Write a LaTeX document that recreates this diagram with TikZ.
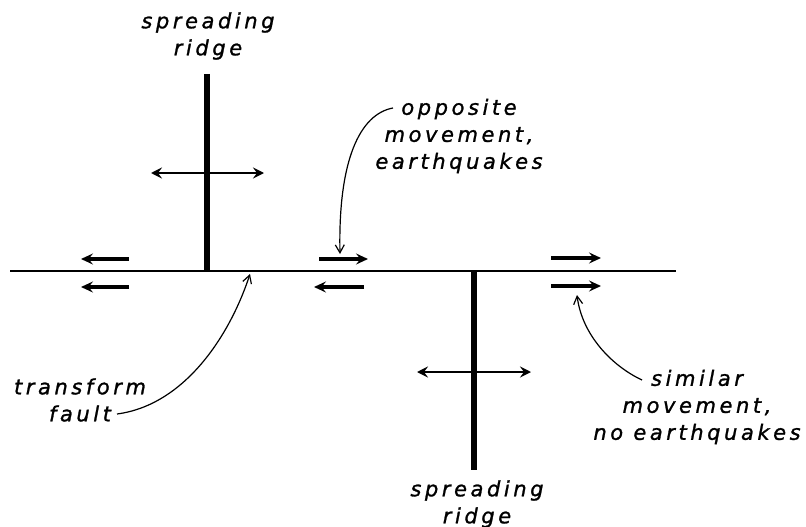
\documentclass[tikz,border=0pt]{standalone}
\usepackage{fontspec}
\newfontfamily\lf[LetterSpace=17,FakeBold=1.2]{DejaVu Sans}
\usetikzlibrary{arrows.meta}
\tikzset{
  lbl/.style={font=\lf\itshape\fontsize{21}{27}\selectfont, align=center, inner sep=0pt},
  fault/.style={line width=2.5pt},
  ridge/.style={line width=6pt},
  spread/.style={line width=2.5pt, {Stealth[length=11pt,width=11pt,inset=4pt]}-{Stealth[length=11pt,width=11pt,inset=4pt]}},
  motion/.style={line width=3.5pt, -{Stealth[length=12pt,width=11pt,inset=4.5pt]}},
  leader/.style={line width=1.2pt, -{Straight Barb[length=8pt,width=9pt]}}
}
\begin{document}
\begin{tikzpicture}[x=1pt,y=-1pt]
\useasboundingbox (0,0) rectangle (806,527);
% fault
\coordinate (fw) at (10,271);
\coordinate (fe) at (676,271);
\draw[fault] (fw) -- (fe);
% ridges
\coordinate (r1t) at (207,74);
\coordinate (r1b) at (207,272);
\coordinate (r2t) at (474,270);
\coordinate (r2b) at (474,470);
\draw[ridge] (r1t) -- (r1b);
\draw[ridge] (r2t) -- (r2b);
% spreading arrows
\coordinate (s1w) at (151,173);
\coordinate (s1e) at (264,173);
\coordinate (s2w) at (417,372);
\coordinate (s2e) at (531,372);
\draw[spread] (s1w) -- (s1e);
\draw[spread] (s2w) -- (s2e);
% motion arrows
\coordinate (a1s) at (129,259); \coordinate (a1e) at (81,259);
\coordinate (a2s) at (129,287); \coordinate (a2e) at (81,287);
\coordinate (a3s) at (319,259); \coordinate (a3e) at (368,259);
\coordinate (a4s) at (364,287); \coordinate (a4e) at (314,287);
\coordinate (a5s) at (551,258); \coordinate (a5e) at (601,258);
\coordinate (a6s) at (551,286); \coordinate (a6e) at (601,286);
\draw[motion] (a1s) -- (a1e);
\draw[motion] (a2s) -- (a2e);
\draw[motion] (a3s) -- (a3e);
\draw[motion] (a4s) -- (a4e);
\draw[motion] (a5s) -- (a5e);
\draw[motion] (a6s) -- (a6e);
% labels
\node[lbl] (sr1) at (208,36) {spreading\\ridge};
\node[lbl] (sr2) at (477,504) {spreading\\ridge};
\node[lbl] (opp) at (459,136) {opposite\\movement,\\earthquakes};
\node[lbl] (tf) at (80,400) {transform\\fault};
\node[lbl] (sim) at (697,407) {similar\\movement,\\no earthquakes};
% leaders
\coordinate (oppstart) at (393,108);
\coordinate (opptip) at (340,254);
\draw[leader] (oppstart) .. controls (360,114) and (338,160) .. (opptip);
\coordinate (tfstart) at (117,414);
\coordinate (tftip) at (250,274);
\draw[leader] (tfstart) .. controls (185,405) and (230,335) .. (tftip);
\coordinate (simstart) at (642,380);
\coordinate (simtip) at (577,295);
\draw[leader] (simstart) .. controls (612,366) and (582,335) .. (simtip);
\end{tikzpicture}
\end{document}
